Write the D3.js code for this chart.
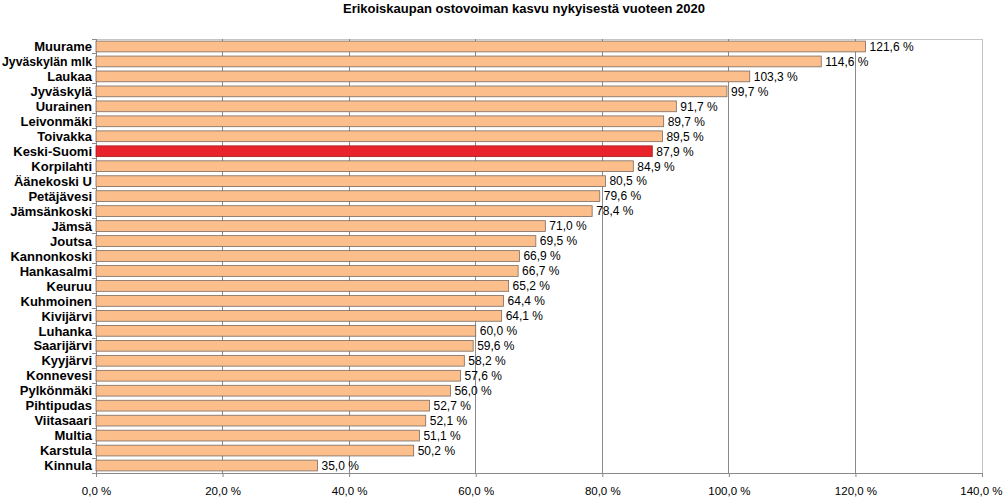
<!DOCTYPE html>
<html><head><meta charset="utf-8">
<script src="https://cdn.jsdelivr.net/npm/d3@7"></script>
<style>body{margin:0;background:#fff}svg{display:block}</style>
</head><body>
<script>
const categories = ["Muurame","Jyväskylän mlk","Laukaa","Jyväskylä","Uurainen","Leivonmäki","Toivakka","Keski-Suomi","Korpilahti","Äänekoski U","Petäjävesi","Jämsänkoski","Jämsä","Joutsa","Kannonkoski","Hankasalmi","Keuruu","Kuhmoinen","Kivijärvi","Luhanka","Saarijärvi","Kyyjärvi","Konnevesi","Pylkönmäki","Pihtipudas","Viitasaari","Multia","Karstula","Kinnula"];
const values = [121.6,114.6,103.3,99.7,91.7,89.7,89.5,87.9,84.9,80.5,79.6,78.4,71.0,69.5,66.9,66.7,65.2,64.4,64.1,60.0,59.6,58.2,57.6,56.0,52.7,52.1,51.1,50.2,35.0];
const highlight = ["Keski-Suomi"];
const ticks = [0,20,40,60,80,100,120,140];
const title = "Erikoiskaupan ostovoiman kasvu nykyisestä vuoteen 2020";

const W = 1003, H = 498;
const m = {left:96, right:21, top:39, bottom:25};
const fmt = v => v.toFixed(1).replace(".", ",") + " %";

const svg = d3.select("body").append("svg").attr("width", W).attr("height", H);
const x = d3.scaleLinear().domain([0,140]).range([m.left, W - m.right]);
const y = d3.scaleBand().domain(categories).range([m.top, H - m.bottom]).paddingInner(0.28).paddingOuter(0.14);
const yb = d3.scaleBand().domain(categories).range([m.top, H - m.bottom]);

svg.append("text").attr("x", 524).attr("y", 13).attr("text-anchor","middle")
  .attr("font-family","Liberation Sans, Arial, sans-serif").attr("font-weight","bold").attr("font-size",13)
  .text(title);

// plot border
svg.append("rect").attr("x", x(0)).attr("y", m.top).attr("width", x(140)-x(0)).attr("height", H-m.bottom-m.top)
  .attr("fill","none").attr("stroke","#c4c4c4").attr("stroke-width",1).attr("shape-rendering","crispEdges");

// gridlines
svg.append("g").selectAll("line").data(ticks.filter(t => t>0 && t<140)).join("line")
  .attr("x1", d=>x(d)).attr("x2", d=>x(d)).attr("y1", m.top).attr("y2", H-m.bottom)
  .attr("stroke","#8a8a8a").attr("shape-rendering","crispEdges");

// x axis
const xAxis = svg.append("g").attr("transform",`translate(0,${H-m.bottom})`)
  .call(d3.axisBottom(x).tickValues(ticks).tickFormat(fmt).tickSize(4).tickPadding(10));
xAxis.select(".domain").attr("stroke","#8a8a8a");
xAxis.selectAll(".tick line").attr("stroke","#8a8a8a");
xAxis.selectAll("text").attr("font-family","Liberation Sans, Arial, sans-serif").attr("font-size",11.5).attr("fill","#000");
xAxis.selectAll(".tick").filter(d => d === 140).select("text").attr("text-anchor","end").attr("x", 20);

// y axis (ticks between categories)
const yAxisG = svg.append("g");
yAxisG.append("line").attr("x1",x(0)).attr("x2",x(0)).attr("y1",m.top).attr("y2",H-m.bottom).attr("stroke","#8a8a8a").attr("shape-rendering","crispEdges");
yAxisG.selectAll("line.t").data(categories).join("line").attr("class","t")
  .attr("x1",x(0)-4).attr("x2",x(0)).attr("y1",d=>yb(d)+yb.bandwidth()).attr("y2",d=>yb(d)+yb.bandwidth())
  .attr("stroke","#8a8a8a").attr("shape-rendering","crispEdges");
yAxisG.append("line").attr("x1",x(0)-4).attr("x2",x(0)).attr("y1",m.top).attr("y2",m.top).attr("stroke","#8a8a8a").attr("shape-rendering","crispEdges");

yAxisG.selectAll("text").data(categories).join("text")
  .attr("x", 92).attr("y", d=>yb(d)+yb.bandwidth()/2).attr("dy","0.36em").attr("text-anchor","end")
  .attr("font-family","Liberation Sans, Arial, sans-serif").attr("font-weight","bold")
  .attr("font-size",13)
  .text(d=>d)
  .each(function(){ const w = this.getComputedTextLength(); if (w > 90) d3.select(this).attr("textLength", 90).attr("lengthAdjust","spacingAndGlyphs"); });

// bars
const data = categories.map((c,i)=>({c, v:values[i]}));
svg.append("g").selectAll("rect").data(data).join("rect")
  .attr("x", x(0)).attr("y", d=>y(d.c)).attr("width", d=>x(d.v)-x(0)).attr("height", y.bandwidth())
  .attr("fill", d=>highlight.includes(d.c) ? "#e8232b" : "#fcbf8c")
  .attr("stroke", d=>highlight.includes(d.c) ? "#a02020" : "#7a6a60").attr("stroke-width",0.8);

svg.append("g").selectAll("text").data(data).join("text")
  .attr("x", d=>x(d.v)+4).attr("y", d=>y(d.c)+y.bandwidth()/2).attr("dy","0.36em")
  .attr("font-family","Liberation Sans, Arial, sans-serif").attr("font-size",12)
  .text(d=>fmt(d.v));
</script>
</body></html>
